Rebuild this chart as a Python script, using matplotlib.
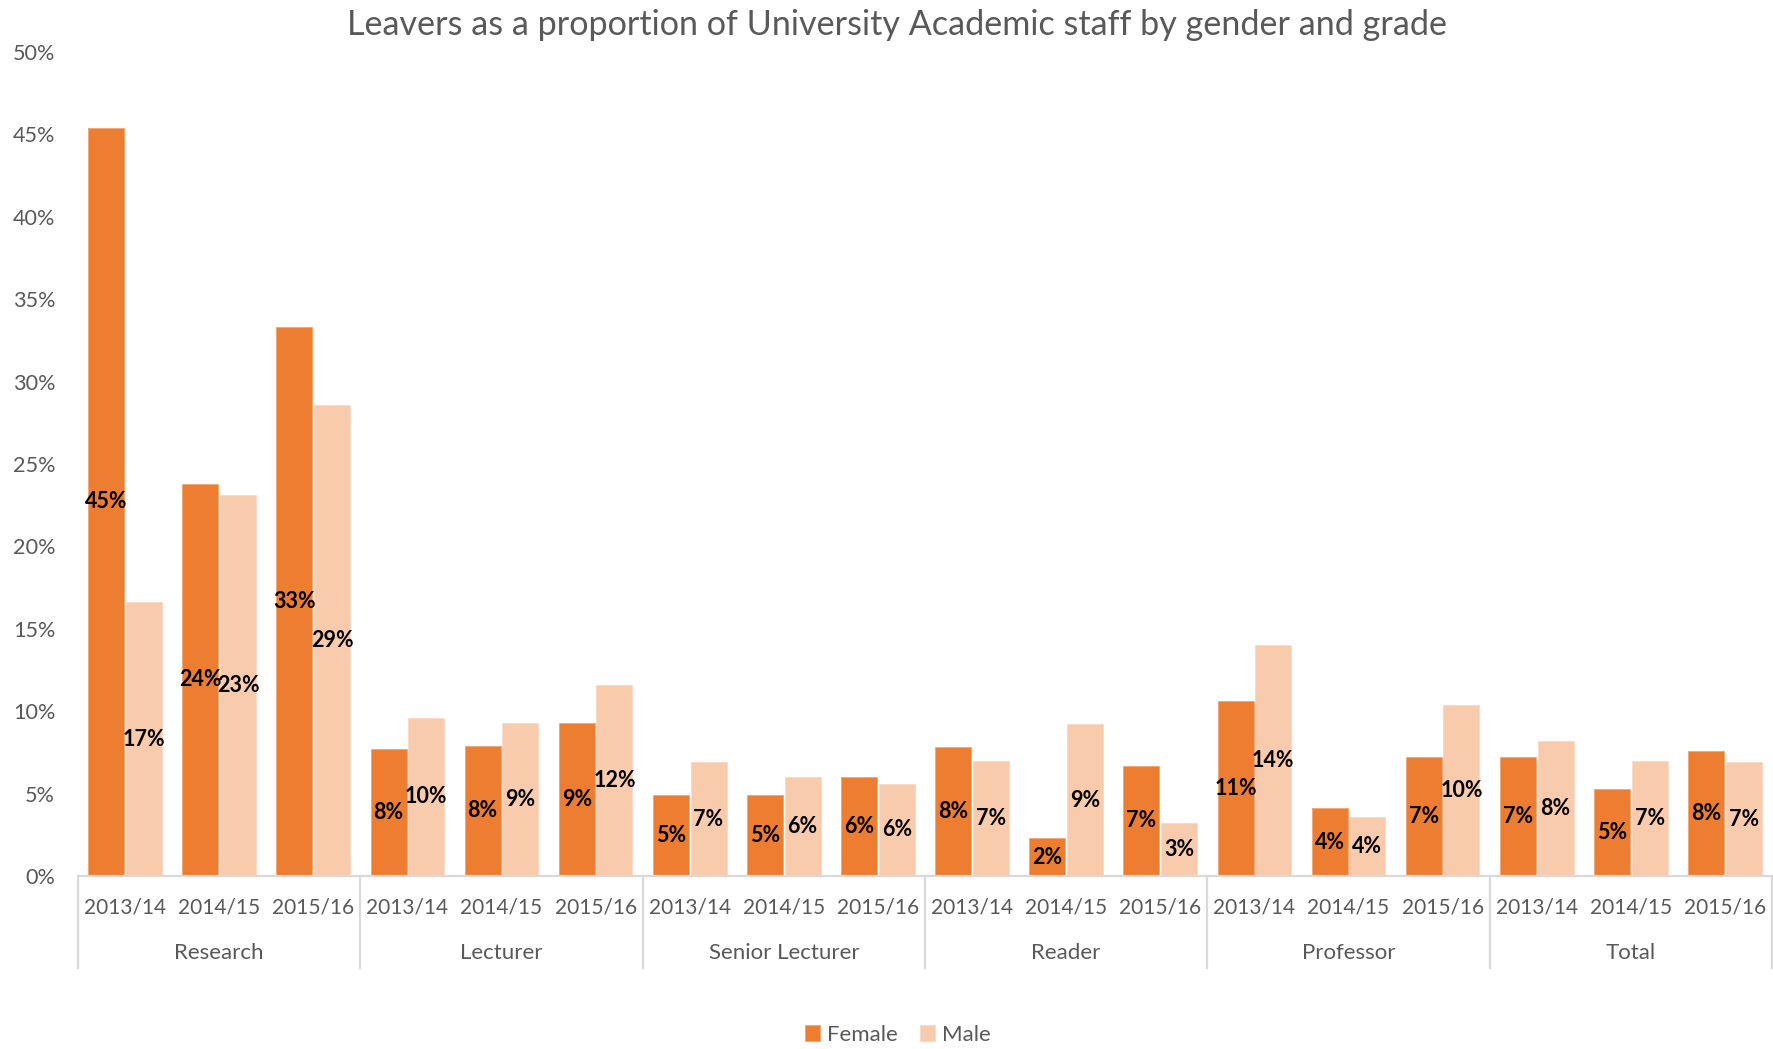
import matplotlib
matplotlib.use("Agg")
import matplotlib.pyplot as plt
import matplotlib.transforms as mtransforms
import numpy as np

plt.rcParams['font.family'] = ['Lato', 'DejaVu Sans']

grades = ["Research", "Lecturer", "Senior Lecturer", "Reader", "Professor", "Total"]
years = ["2013/14", "2014/15", "2015/16"]
female = [45.4, 23.8, 33.3,
          7.7, 7.9, 9.3,
          4.9, 4.9, 6.0,
          7.8, 2.3, 6.7,
          10.6, 4.1, 7.2,
          7.2, 5.3, 7.6]
male = [16.6, 23.1, 28.6,
        9.6, 9.3, 11.6,
        6.9, 6.0, 5.6,
        7.0, 9.2, 3.2,
        14.0, 3.6, 10.4,
        8.2, 7.0, 6.9]
yticks = list(range(0, 51, 5))

c_f = "#ED7D31"
c_m = "#F8CBAD"
grey = "#595959"

fig = plt.figure(figsize=(17.74, 10.49), dpi=100)
ax = fig.add_axes([0.04397, 0.1649, 0.9549, 0.7855])

n = len(female)
x = np.arange(n)
w = 0.383
bf = ax.bar(x - 0.2, female, width=w, color=c_f, edgecolor="#F4A46E", linewidth=0.6, label="Female")
bm = ax.bar(x + 0.2, male, width=w, color=c_m, edgecolor="#FAD9C4", linewidth=0.6, label="Male")

for bars, vals in ((bf, female), (bm, male)):
    for b, v in zip(bars, vals):
        ax.text(b.get_x() + b.get_width() / 2, v / 2, f"{round(v):d}%",
                ha="center", va="center", fontsize=15.5, fontweight="bold", color="black")

ax.set_xlim(-0.5, n - 0.5)
ax.set_ylim(0, 50)
ax.set_yticks(yticks)
ax.set_yticklabels([f"{t}%" for t in yticks], fontsize=15.6, color=grey)
ax.tick_params(axis="y", length=0, pad=16.5)
ax.set_xticks([])
for s in ("top", "right", "left"):
    ax.spines[s].set_visible(False)
ax.spines["bottom"].set_color("#D9D9D9")
ax.spines["bottom"].set_linewidth(1.6)

trans = mtransforms.blended_transform_factory(ax.transData, ax.transAxes)
for i in range(n):
    ax.text(x[i], -0.0385, years[i % 3], transform=trans, ha="center", va="center",
            fontsize=15, color=grey)
for g, name in enumerate(grades):
    ax.text(g * 3 + 1, -0.0934, name, transform=trans, ha="center", va="center",
            fontsize=16, color=grey)
for k in range(len(grades) + 1):
    xs = k * 3 - 0.5
    ax.plot([xs, xs], [0, -0.1117], transform=trans, color="#D9D9D9", lw=1.6, clip_on=False)

fig.text(0.5057, 0.976, "Leavers as a proportion of University Academic staff by gender and grade",
         ha="center", va="center", fontsize=24.6, color=grey)

leg = fig.legend(handles=[bf, bm], labels=["Female", "Male"], loc="center",
                 bbox_to_anchor=(0.506, 0.0133), ncol=2, frameon=False, fontsize=16,
                 handlelength=0.7, handleheight=0.7, handletextpad=0.3, columnspacing=1.0)
for t in leg.get_texts():
    t.set_color(grey)

fig.savefig("out.png", dpi=100)
